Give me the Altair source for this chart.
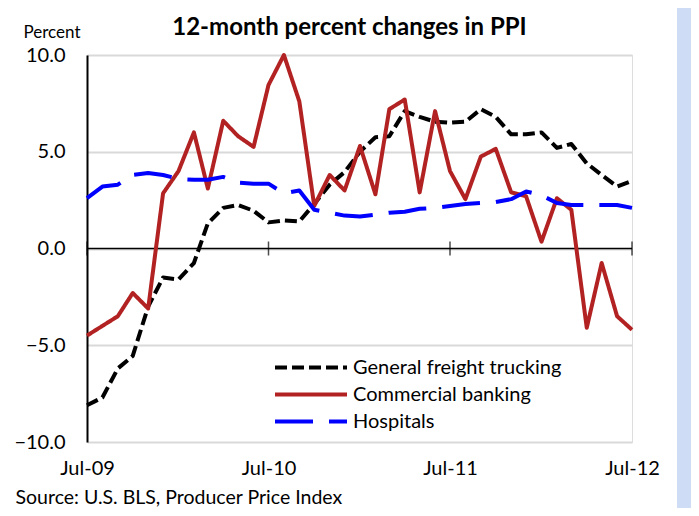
import altair as alt
import pandas as pd

# ---- data ----
months = pd.date_range("2009-07-01", "2012-07-01", freq="MS")
series_names = ["General freight trucking", "Commercial banking", "Hospitals"]

trucking = [-8.1, -7.7, -6.2, -5.55, -3.0, -1.5, -1.6, -0.75, 1.3, 2.1, 2.25, 1.95,
            1.35, 1.45, 1.4, 2.3, 3.3, 3.95, 5.0, 5.75, 5.8, 7.1, 6.8, 6.55,
            6.5, 6.55, 7.2, 6.8, 5.9, 5.9, 6.0, 5.2, 5.4, 4.4, 3.8, 3.2, 3.5]
banking = [-4.5, -4.0, -3.5, -2.3, -3.1, 2.85, 4.0, 6.0, 3.1, 6.6, 5.8, 5.25,
           8.45, 10.0, 7.6, 2.2, 3.8, 3.0, 5.3, 2.8, 7.2, 7.7, 2.9, 7.1,
           4.0, 2.55, 4.75, 5.15, 2.9, 2.7, 0.35, 2.6, 2.0, -4.1, -0.75, -3.5, -4.2]
hospitals = [2.6, 3.2, 3.3, 3.8, 3.9, 3.8, 3.6, 3.55, 3.55, 3.7, 3.4, 3.35,
             3.35, 2.85, 3.0, 2.0, 1.85, 1.7, 1.65, 1.75, 1.85, 1.9, 2.05, 2.1,
             2.2, 2.3, 2.35, 2.4, 2.55, 2.95, 2.75, 2.35, 2.25, 2.25, 2.25, 2.25, 2.1]

y_ticks = [-10, -5, 0, 5, 10]
x_tick_labels = ["Jul-09", "Jul-10", "Jul-11", "Jul-12"]
x_tick_years = [2009, 2010, 2011, 2012]

title_text = "12-month percent changes in PPI"
y_title = "Percent"
source_text = "Source: U.S. BLS, Producer Price Index"

# ---- styles ----
colors = ["#000000", "#b22222", "#0000ff"]
dashes = [[12, 5], [1, 0], [38, 16]]
FONT = "Lato"

rows = []
for name, vals in zip(series_names, [trucking, banking, hospitals]):
    for d, v in zip(months, vals):
        rows.append({"month": d, "series": name, "value": v})
df = pd.DataFrame(rows)

tick_df = pd.DataFrame({"month": [pd.Timestamp(year=y, month=7, day=1) for y in x_tick_years],
                        "label": x_tick_labels})

tick_dt = [alt.DateTime(year=y, month=7, date=1) for y in x_tick_years]
x_scale = alt.Scale(domain=[tick_dt[0], tick_dt[-1]], nice=False)
y_scale = alt.Scale(domain=[y_ticks[0], y_ticks[-1]], nice=False)

x_axis = alt.Axis(values=tick_dt, format="%b-%y", labelFont=FONT, labelFontSize=20,
                  labelColor="black", labelPadding=16, domain=False, ticks=False, grid=False,
                  labelFlush=False, labelOverlap=False,
                  title=source_text, titleFont=FONT, titleFontSize=19.5, titleFontWeight="normal",
                  titleColor="black", titleAlign="left", titleAnchor="start",
                  titleX=-72, titleY=61, titleBaseline="alphabetic")
y_axis = alt.Axis(values=y_ticks, format=".1f", labelFont=FONT, labelFontSize=20,
                  labelColor="black", labelPadding=22, ticks=False,
                  domainColor="black", domainWidth=2,
                  grid=True, gridColor="#d9d9d9", gridWidth=2,
                  title=y_title, titleFont=FONT, titleFontSize=17, titleFontWeight="normal",
                  titleColor="black", titleAngle=0, titleAlign="left",
                  titleX=-64, titleY=-18, titleBaseline="alphabetic")

legend = alt.Legend(orient="none", legendX=186, legendY=300, title=None,
                    labelFont=FONT, labelFontSize=20, labelColor="black", labelLimit=400,
                    symbolType="stroke", symbolSize=5184, symbolStrokeWidth=4,
                    clipHeight=25, rowPadding=2, labelOffset=4, padding=0, symbolOffset=0)

lines = alt.Chart(df).mark_line(strokeWidth=4, strokeJoin="round").encode(
    x=alt.X("month:T", scale=x_scale, axis=x_axis),
    y=alt.Y("value:Q", scale=y_scale, axis=y_axis),
    color=alt.Color("series:N", scale=alt.Scale(domain=series_names, range=colors), legend=legend),
    strokeDash=alt.StrokeDash("series:N", scale=alt.Scale(domain=series_names, range=dashes), legend=legend),
    order=alt.Order("month:T"),
)

zero_rule = alt.Chart(pd.DataFrame({"v": [0]})).mark_rule(color="black", strokeWidth=1.5).encode(
    y=alt.Y("v:Q", scale=y_scale, axis=y_axis)
)

ticks = alt.Chart(tick_df).mark_tick(orient="vertical", size=14, thickness=1.5, color="black").encode(
    x=alt.X("month:T", scale=x_scale, axis=x_axis),
    y=alt.datum(0),
)

strip = alt.Chart(pd.DataFrame({"a": [0]})).mark_rect(color="#cfdcf6").encode(
    x=alt.value(590), x2=alt.value(604), y=alt.value(-47), y2=alt.value(453)
)

chart = alt.layer(strip, zero_rule, ticks, lines).properties(
    width=545, height=387,
    title=alt.TitleParams(title_text, font=FONT, fontSize=24, fontWeight="bold", color="black",
                          anchor="middle", baseline="alphabetic", offset=0, dx=-10, dy=51),
    autosize=alt.AutoSizeParams(type="none"),
    padding={"left": 79, "top": 47, "right": 59, "bottom": 66},
).configure_view(stroke="#c8c8c8", strokeWidth=2).configure(background="white")

chart.save("out.html", embed_options={"renderer": "svg", "actions": False})
